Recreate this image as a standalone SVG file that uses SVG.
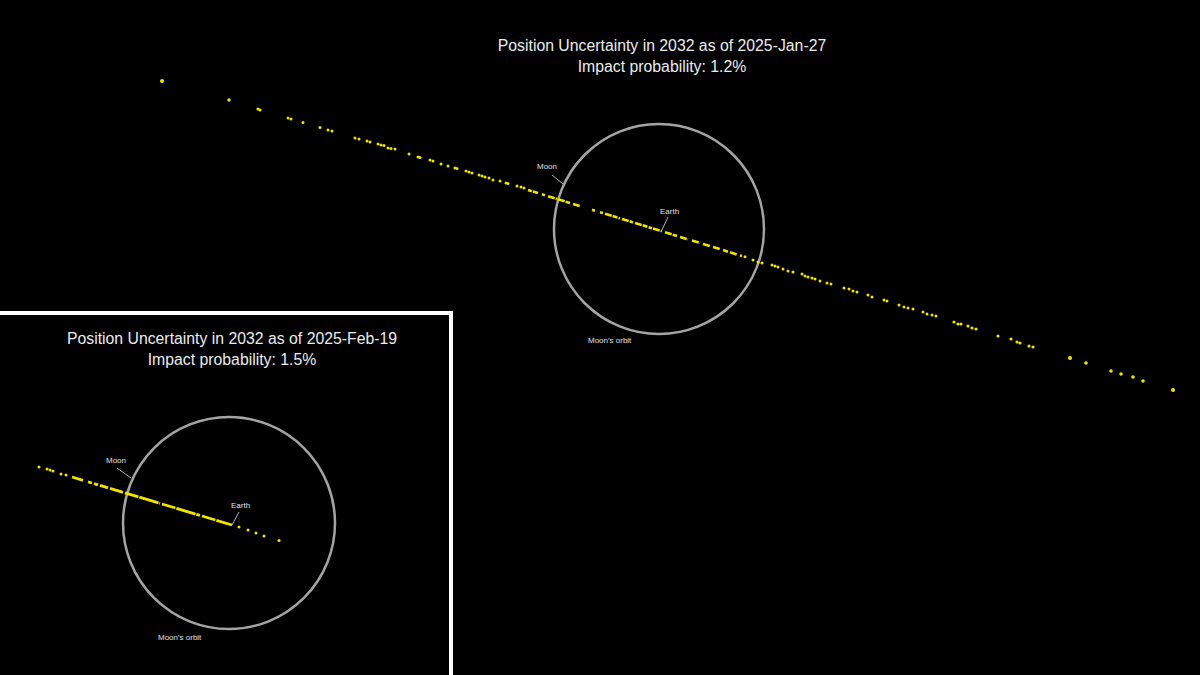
<svg xmlns="http://www.w3.org/2000/svg" width="1200" height="675" viewBox="0 0 1200 675">
<style>
.title{font-family:"Liberation Sans",Arial,sans-serif;font-size:15.8px;fill:#ececec;text-anchor:middle}
.lbl{font-family:"Liberation Sans",Arial,sans-serif;font-size:8px;fill:#e0e0e0}
.orbit{fill:none;stroke:#a4a4a4;stroke-width:2.5}
.d{fill:#f0e400}
.dash{fill:none;stroke:#f0e400;stroke-linecap:butt}
.ptr{stroke:#c8c8c8;stroke-width:0.9;fill:none}
</style>
<rect x="0" y="0" width="1200" height="675" fill="#000"/>

<g id="main-title">
<text class="title" x="662" y="51">Position Uncertainty in 2032 as of 2025-Jan-27</text>
<text class="title" x="662" y="72">Impact probability: 1.2%</text>
</g>

<g id="main-orbit">
<circle class="orbit" cx="659" cy="229" r="105"/>
<text class="lbl" x="588" y="343">Moon's orbit</text>
</g>

<g id="main-moon"><text class="lbl" x="537" y="169">Moon</text></g>
<g id="main-earth"><text class="lbl" x="660" y="214">Earth</text></g>

<g id="main-dots">
<circle class="d" cx="162" cy="81" r="2"/>
<circle class="d" cx="229" cy="100" r="1.7"/>
<circle class="d" cx="258" cy="109" r="1.6"/><circle class="d" cx="260" cy="110" r="1.6"/>
<circle class="d" cx="288" cy="118" r="1.5"/><circle class="d" cx="291" cy="119" r="1.5"/>
<circle class="d" cx="303" cy="122.5" r="1.5"/>
<circle class="d" cx="320" cy="127.5" r="1.5"/>
<circle class="d" cx="328" cy="130" r="1.5"/><circle class="d" cx="332" cy="131" r="1.5"/>
<circle class="d" cx="355" cy="138" r="1.5"/><circle class="d" cx="359" cy="139" r="1.5"/>
<circle class="d" cx="367" cy="141" r="1.5"/><circle class="d" cx="370" cy="142" r="1.5"/>
<circle class="d" cx="378" cy="144" r="1.5"/><circle class="d" cx="381" cy="145" r="1.5"/><circle class="d" cx="384" cy="145.5" r="1.5"/>
<circle class="d" cx="388" cy="148" r="1.5"/><circle class="d" cx="391" cy="148.5" r="1.5"/><circle class="d" cx="395" cy="149" r="1.5"/>
<circle class="d" cx="409" cy="154" r="1.5"/>
<circle class="d" cx="418" cy="157" r="1.5"/><circle class="d" cx="420" cy="157.5" r="1.5"/>
<circle class="d" cx="430" cy="160" r="1.5"/><circle class="d" cx="433" cy="161" r="1.5"/>
<circle class="d" cx="441" cy="164" r="1.5"/>
<circle class="d" cx="448" cy="166" r="1.5"/>
<circle class="d" cx="455" cy="168" r="1.5"/><circle class="d" cx="457" cy="168.5" r="1.5"/>
<circle class="d" cx="466" cy="171" r="1.5"/><circle class="d" cx="469" cy="172" r="1.5"/><circle class="d" cx="472" cy="173" r="1.5"/>
<circle class="d" cx="479" cy="175" r="1.5"/><circle class="d" cx="482" cy="176" r="1.5"/><circle class="d" cx="485" cy="177" r="1.5"/><circle class="d" cx="489" cy="178" r="1.5"/><circle class="d" cx="493" cy="180" r="1.5"/>
<circle class="d" cx="500" cy="181" r="1.5"/>
<circle class="d" cx="506" cy="183" r="1.5"/><circle class="d" cx="508" cy="183.5" r="1.5"/>
<circle class="d" cx="517" cy="186" r="1.5"/><circle class="d" cx="521" cy="187" r="1.5"/><circle class="d" cx="524" cy="188" r="1.5"/>
<path class="dash" stroke-width="2.6" stroke-dasharray="7 1 5 1.2 9 1" d="M528 190L532 191.2M533 191.5L538 193.1M542 194.3L545 195.2M548 196.2L557 198.9M558 199.3L570 203M573 203.9L580 206M592 209.7L595 210.7M600 212.2L603 213.1M605 213.7L620 218.4M622 219L633 222.4M635 223L652 228.2M653 228.5L662 231.3M665 232.3L677 236M680 236.9L688 239.3M692 240.6L700 243M703 244L710 246.1M713 247.1L720 249.2M723 250.1L728 251.7M730 252.3L737 254.5M740 255.4L742 256"/>
<circle class="d" cx="745" cy="256.7" r="1.5"/>
<circle class="d" cx="753" cy="260" r="1.5"/><circle class="d" cx="758" cy="262" r="1.5"/><circle class="d" cx="762" cy="263" r="1.5"/>
<circle class="d" cx="772" cy="265" r="1.5"/><circle class="d" cx="775" cy="266" r="1.5"/><circle class="d" cx="778" cy="267" r="1.5"/><circle class="d" cx="783" cy="269" r="1.5"/><circle class="d" cx="788" cy="271" r="1.5"/><circle class="d" cx="793" cy="272" r="1.5"/>
<circle class="d" cx="802" cy="274" r="1.5"/><circle class="d" cx="805" cy="276" r="1.5"/>
<circle class="d" cx="808" cy="277" r="1.5"/><circle class="d" cx="812" cy="278" r="1.5"/><circle class="d" cx="815" cy="279" r="1.5"/><circle class="d" cx="820" cy="281" r="1.5"/>
<circle class="d" cx="827" cy="283" r="1.5"/><circle class="d" cx="831" cy="284" r="1.5"/>
<circle class="d" cx="844" cy="288" r="1.5"/><circle class="d" cx="849" cy="289" r="1.5"/><circle class="d" cx="853" cy="291" r="1.5"/><circle class="d" cx="857" cy="292" r="1.5"/>
<circle class="d" cx="868" cy="295" r="1.5"/><circle class="d" cx="872" cy="297" r="1.5"/>
<circle class="d" cx="884" cy="300" r="1.5"/><circle class="d" cx="887" cy="301" r="1.5"/>
<circle class="d" cx="899" cy="305" r="1.5"/><circle class="d" cx="904" cy="307" r="1.5"/><circle class="d" cx="908" cy="308" r="1.5"/><circle class="d" cx="913" cy="309" r="1.5"/>
<circle class="d" cx="923" cy="312" r="1.5"/><circle class="d" cx="927" cy="314" r="1.5"/><circle class="d" cx="932" cy="315" r="1.5"/><circle class="d" cx="936" cy="316" r="1.5"/>
<circle class="d" cx="954" cy="322" r="1.6"/><circle class="d" cx="958" cy="324" r="1.6"/><circle class="d" cx="961" cy="324" r="1.6"/><circle class="d" cx="968" cy="326" r="1.6"/><circle class="d" cx="972" cy="328" r="1.6"/><circle class="d" cx="976" cy="329" r="1.6"/>
<circle class="d" cx="998" cy="336" r="1.6"/>
<circle class="d" cx="1011" cy="339" r="1.6"/><circle class="d" cx="1017" cy="342" r="1.6"/><circle class="d" cx="1020" cy="343" r="1.6"/>
<circle class="d" cx="1029" cy="346" r="1.6"/><circle class="d" cx="1033" cy="347" r="1.6"/>
<circle class="d" cx="1070" cy="358" r="2"/>
<circle class="d" cx="1086" cy="363" r="1.8"/>
<circle class="d" cx="1111" cy="371" r="1.8"/>
<circle class="d" cx="1121" cy="374" r="1.8"/>
<circle class="d" cx="1133" cy="377" r="1.8"/>
<circle class="d" cx="1143" cy="381" r="1.8"/>
<circle class="d" cx="1173" cy="390" r="2"/>
</g>

<g id="inset">
<rect x="-10" y="313" width="461" height="380" fill="#000" stroke="#ffffff" stroke-width="4"/>
<text class="title" x="232" y="344">Position Uncertainty in 2032 as of 2025-Feb-19</text>
<text class="title" x="232" y="365">Impact probability: 1.5%</text>
</g>

<g id="inset-orbit">
<circle class="orbit" cx="229" cy="523" r="106"/>
<text class="lbl" x="158" y="640">Moon's orbit</text>
</g>
<g id="inset-moon"><text class="lbl" x="106" y="463">Moon</text></g>
<g id="inset-earth"><text class="lbl" x="231" y="508">Earth</text></g>

<g id="inset-dots">
<circle class="d" cx="39" cy="467" r="1.5"/>
<circle class="d" cx="47" cy="469" r="1.5"/><circle class="d" cx="50" cy="470" r="1.5"/><circle class="d" cx="53" cy="471" r="1.5"/>
<circle class="d" cx="61" cy="474" r="1.5"/><circle class="d" cx="66" cy="475" r="1.5"/>
<path class="dash" stroke-width="2.8" stroke-dasharray="14 1 20 0.8 11 1" d="M72 477L83 480.3M88 481.8L92 483M94 483.6L98 484.8M100 485.4L108 487.8M110 488.4L123 492.3M125 492.9L160 503.4M162 504L200 515.4M202 516L232 525"/>
<circle class="d" cx="239" cy="527" r="1.5"/>
<circle class="d" cx="248" cy="530" r="1.5"/>
<circle class="d" cx="256" cy="533" r="1.5"/>
<circle class="d" cx="264" cy="536" r="1.5"/>
<circle class="d" cx="279" cy="540.5" r="1.6"/>
</g>

<g id="connectors">
<line class="ptr" x1="552" y1="175" x2="563" y2="184"/>
<line class="ptr" x1="668" y1="217" x2="662" y2="230"/>
<line class="ptr" x1="117" y1="468" x2="131" y2="478"/>
<line class="ptr" x1="239" y1="512" x2="232" y2="525"/>
</g>
</svg>
